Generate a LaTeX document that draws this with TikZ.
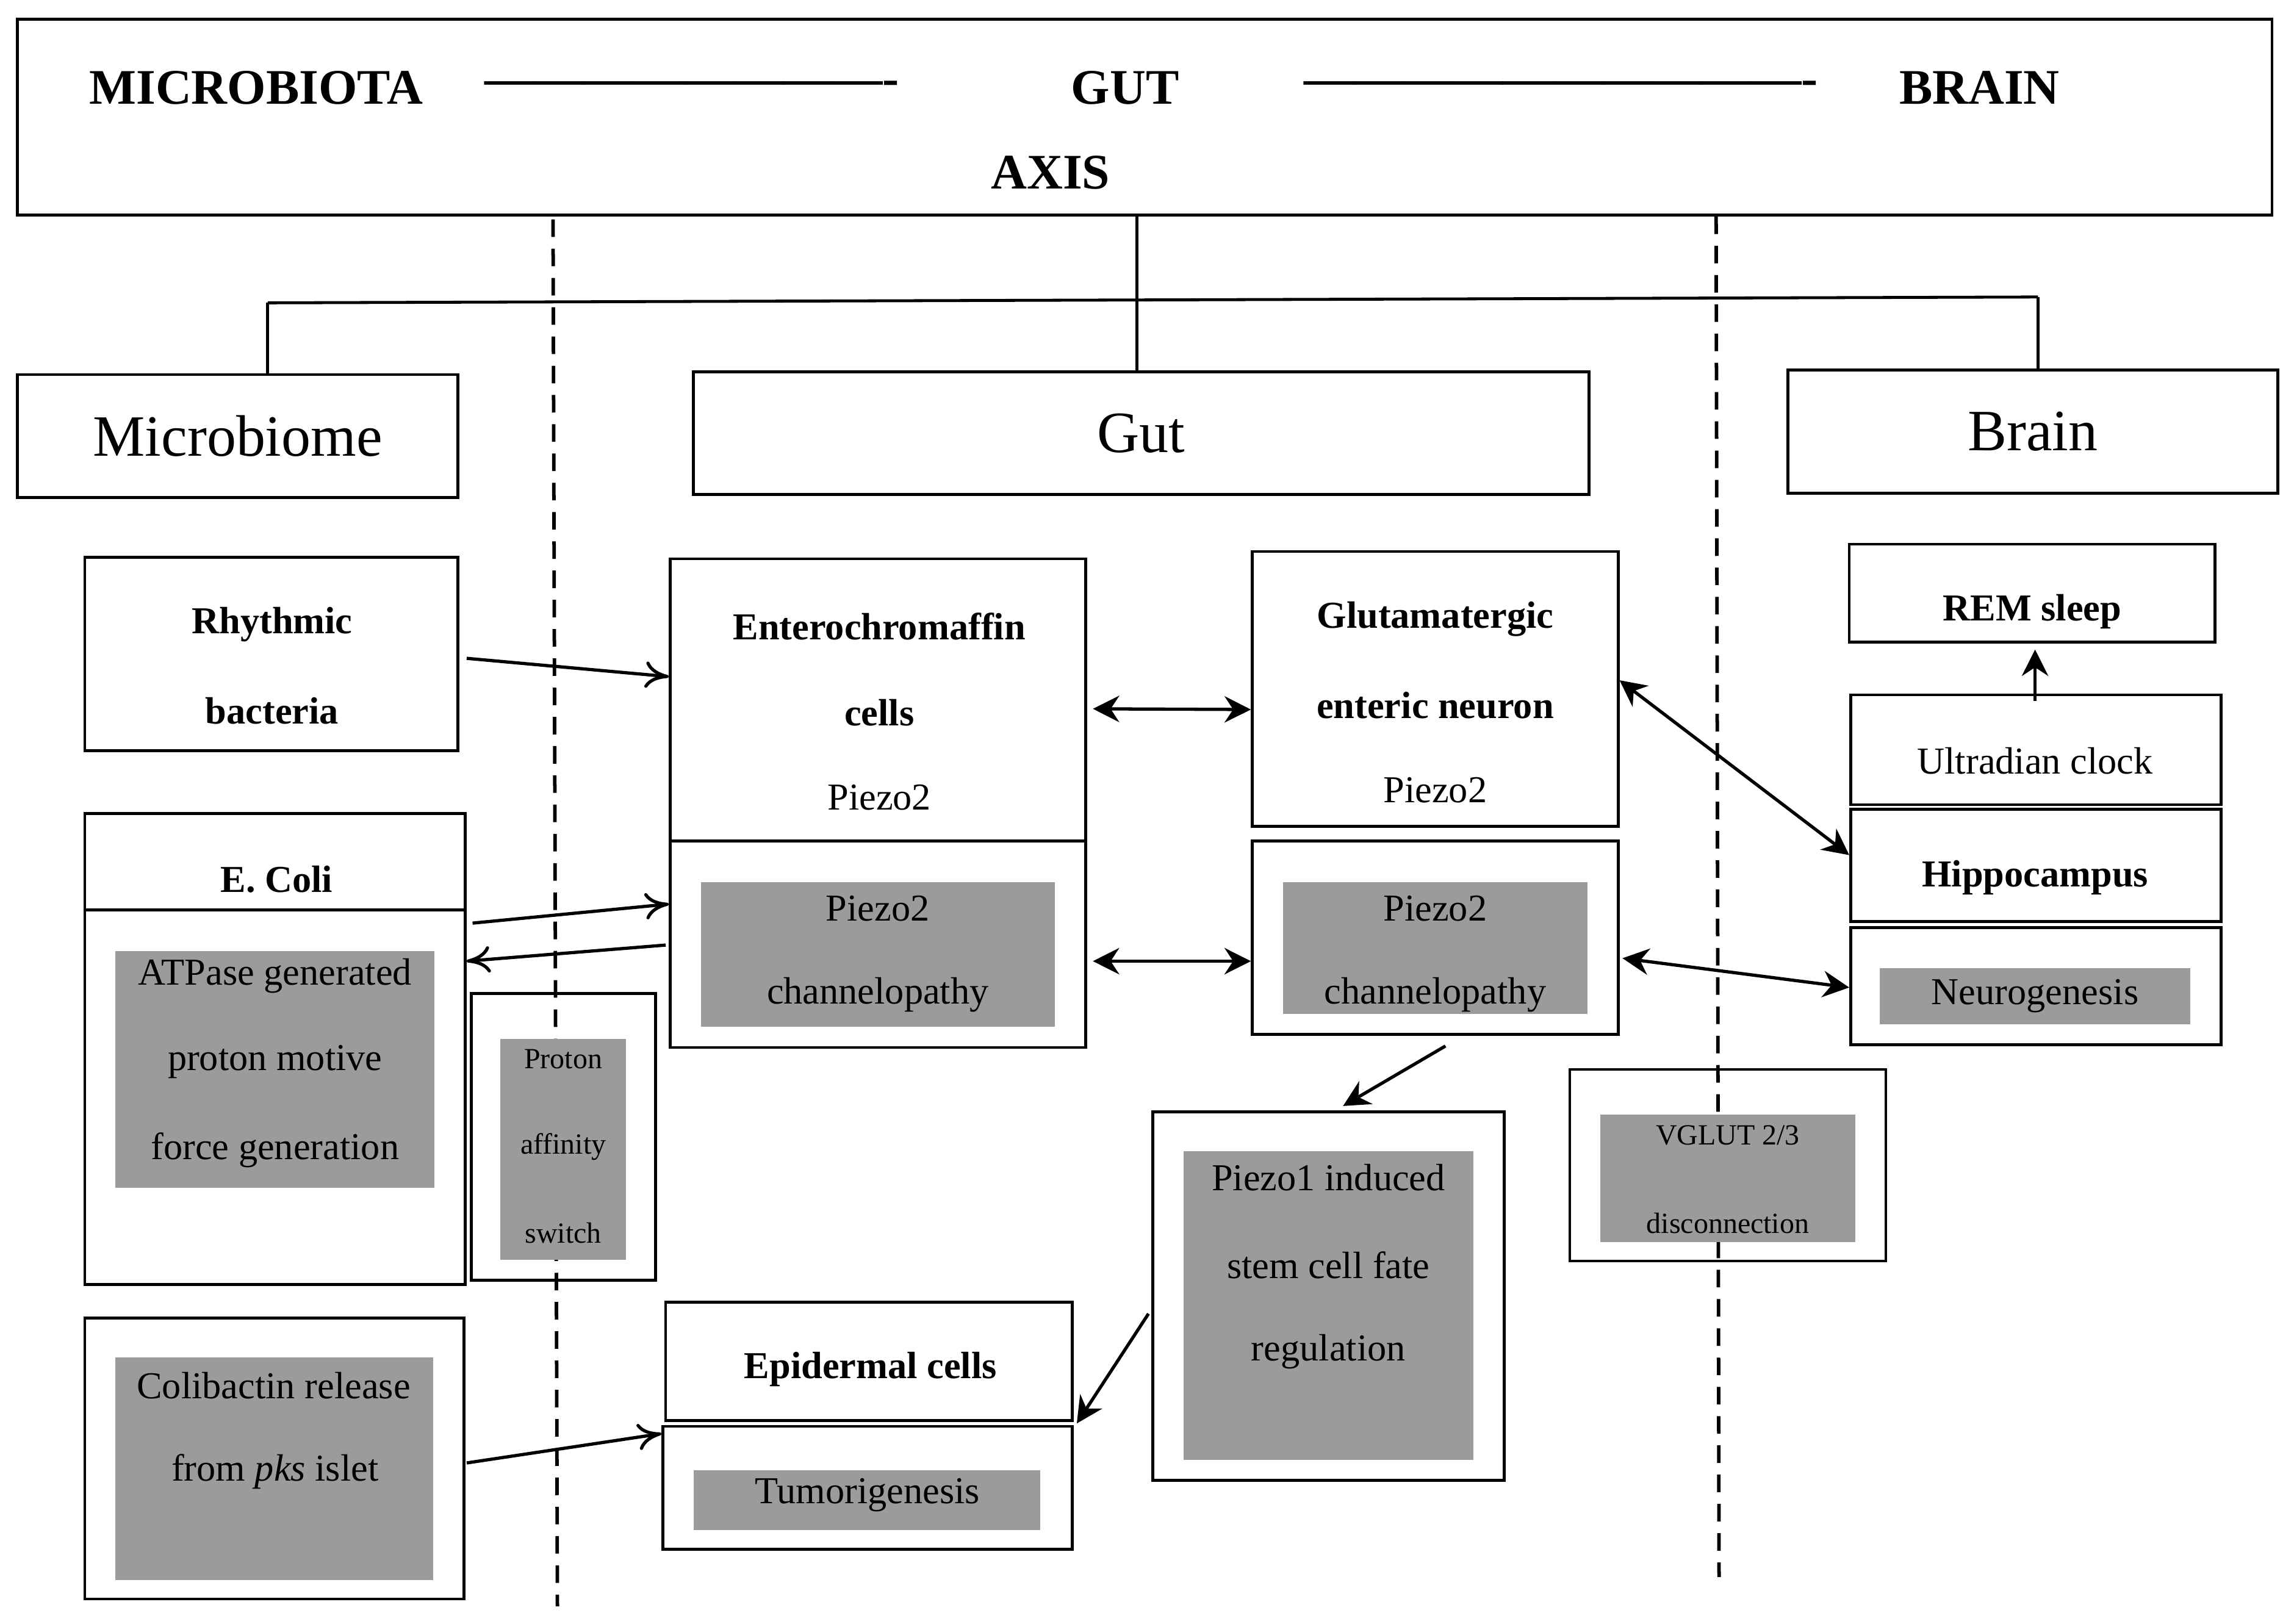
\documentclass[tikz,border=0pt]{standalone}
\usepackage{fontspec}
\setmainfont{Liberation Serif}
\usetikzlibrary{arrows.meta,calc}
\begin{document}
\begin{tikzpicture}[x=0.5pt,y=-0.5pt,
 bx/.style={draw,line width=1pt,inner sep=0pt},
 gr/.style={fill=gray!65!white!90!black,draw=none,inner sep=0pt},
 t/.style={inner sep=0pt,font=\fontsize{13}{15}\selectfont},
 tb/.style={t,font=\fontsize{13}{15}\selectfont\bfseries},
 ts/.style={inner sep=0pt,font=\fontsize{10}{12}\selectfont},
 open/.style={-{To[length=8pt,width=9pt]},line width=1.1pt},
 openb/.style={{To[length=8pt,width=9pt]}-{To[length=8pt,width=9pt]},line width=1.1pt},
 fill1/.style={-{Stealth[length=9pt,width=9pt]},line width=1.1pt},
 fillb/.style={{Stealth[length=9pt,width=9pt]}-{Stealth[length=9pt,width=9pt]},line width=1.1pt}]
\newcommand{\mybox}[6][bx]{\node[#1,minimum width={(#5-#3)*0.5pt},minimum height={(#6-#4)*0.5pt}] (#2) at ({(#3+#5)/2},{(#4+#6)/2}) {};}
\useasboundingbox (0,0) rectangle (1568,1110);
% top
\mybox{top}{12}{13}{1553}{147}
\begin{scope}[font=\fontsize{17}{19}\selectfont\bfseries]
\node (tm) at (175,60) {MICROBIOTA};
\node (td1) at (473,60) {-------------------------};
\node (tg) at (769,60) {GUT};
\node (td2) at (1067,60) {-------------------------------};
\node (tbr) at (1353,60) {BRAIN};
\node (tax) at (718,118) {AXIS};
\end{scope}
% dashed lines
\coordinate (d1a) at (378,150); \coordinate (d1b) at (381,1098);
\coordinate (d2a) at (1173,148); \coordinate (d2b) at (1175,1078);
\draw[dashed,line width=1.2pt,dash pattern=on 6pt off 4pt] (d1a)--(d1b);
\draw[dashed,line width=1.2pt,dash pattern=on 6pt off 4pt] (d2a)--(d2b);
% main boxes
\mybox{mic}{12}{256}{313}{340}
\mybox{gut}{474}{254}{1086}{338}
\mybox{brn}{1222}{253}{1557}{337}
\node[inner sep=0pt,font=\fontsize{20}{22}\selectfont] at (mic) {Microbiome};
\node[inner sep=0pt,font=\fontsize{20}{22}\selectfont] at (gut) {Gut};
\node[inner sep=0pt,font=\fontsize{20}{22}\selectfont] at (brn) {Brain};
% tree
\coordinate (h1) at (183,207); \coordinate (h2) at (1393,203);
\draw[line width=1pt] (top.south -| 777,0) -- (gut.north -| 777,0);
\draw[line width=1pt] (h1)--(h2);
\draw[line width=1pt] (h1)--(mic.north -| h1);
\draw[line width=1pt] (h2)--(brn.north -| h2);
% left column
\mybox{rb}{58}{381}{313}{513}
\node[tb] at (186,427) {Rhythmic}; \node[tb] at (186,486) {bacteria};
\mybox{ec}{58}{556}{318}{622}
\node[tb] at (189,601) {E. Coli};
\mybox{atp}{58}{622}{318}{878}
\mybox[gr]{atpg}{79}{650}{297}{812}
\node[t] at (188,667) {ATPase generated};
\node[t] at (188,726) {proton motive};
\node[t] at (188,786) {force generation};
\mybox{pr}{322}{679}{448}{875}
\mybox[gr]{prg}{342}{710}{428}{861}
\node[ts] at (385,724) {Proton}; \node[ts] at (385,784) {affinity}; \node[ts] at (385,843) {switch};
\mybox{col}{58}{901}{317}{1093}
\mybox[gr]{colg}{79}{928}{296}{1080}
\node[t] at (187,947) {Colibactin release};
\node[t] at (188,1006) {from \textit{pks} islet};
% gut column
\mybox{ent}{458}{382}{742}{575}
\node[tb] at (601,428) {Enterochromaffin}; \node[tb] at (601,487) {cells}; \node[t] at (601,545) {Piezo2};
\mybox{ch1}{458}{575}{742}{716}
\mybox[gr]{ch1g}{479}{603}{721}{702}
\node[t] at (600,621) {Piezo2}; \node[t] at (600,680) {channelopathy};
\mybox{glu}{856}{377}{1106}{565}
\node[tb] at (981,423) {Glutamatergic}; \node[tb] at (981,482) {enteric neuron}; \node[t] at (981,540) {Piezo2};
\mybox{ch2}{856}{575}{1106}{707}
\mybox[gr]{ch2g}{877}{603}{1085}{693}
\node[t] at (981,621) {Piezo2}; \node[t] at (981,680) {channelopathy};
\mybox{epi}{455}{890}{733}{971}
\node[tb] at (595,936) {Epidermal cells};
\mybox{tum}{453}{975}{733}{1059}
\mybox[gr]{tumg}{474}{1005}{711}{1046}
\node[t] at (593,1022) {Tumorigenesis};
\mybox{pz1}{788}{760}{1028}{1012}
\mybox[gr]{pz1g}{809}{787}{1007}{998}
\node[t] at (908,805) {Piezo1 induced}; \node[t] at (908,865) {stem cell fate}; \node[t] at (908,924) {regulation};
\mybox{vg}{1073}{731}{1289}{862}
\mybox[gr]{vgg}{1094}{762}{1268}{849}
\node[ts] at (1181,776) {VGLUT 2/3}; \node[ts] at (1181,836) {disconnection};
% brain column
\mybox{rem}{1264}{372}{1514}{439}
\node[tb] at (1389,418) {REM sleep};
\mybox{ult}{1265}{475}{1518}{550}
\node[t] at (1391,520) {Ultradian clock};
\mybox{hip}{1265}{553}{1518}{630}
\node[tb] at (1391,600) {Hippocampus};
\mybox{neu}{1265}{634}{1518}{714}
\mybox[gr]{neug}{1285}{662}{1497}{700}
\node[t] at (1391,681) {Neurogenesis};
% arrows
\draw[open] ($(rb.east)+(5,3)$) -- ($(ent.west)+(0,-16)$);
\draw[fillb] ($(ent.east)+(4,6)$) -- ($(glu.west)+(0,14)$);
\draw[fillb] ($(glu.east)+(0,-6)$) -- ($(hip.west)+(0,-7)$);
\draw[fill1] ($(ult.north)+(-0.5,5)$) -- ($(rem.south)+(2,4)$);
\draw[fillb] ($(ch1.east)+(4,11.5)$) -- ($(ch2.west)+(0,16)$);
\draw[fillb] ($(ch2.east)+(2,14)$) -- ($(neu.west)+(0,1)$);
\draw[open] ($(ec.south east)+(4,8)$) -- ($(ch1.west)+(0,-27.5)$);
\draw[open] ($(ch1.west)+(-2,0.5)$) -- ($(atp.north east)+(0,36)$);
\draw[fill1] ($(ch2.south)+(7,7)$) -- ($(pz1.north)+(10,-3)$);
\draw[fill1] ($(pz1.west)+(-2,12)$) -- ($(epi.south east)+(2,1)$);
\draw[open] ($(col.east)+(1,3)$) -- ($(tum.west)+(0,-37)$);
\end{tikzpicture}
\end{document}
